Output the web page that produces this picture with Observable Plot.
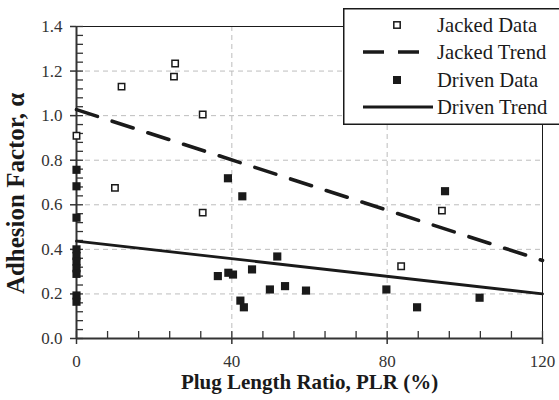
<!DOCTYPE html>
<html><head><meta charset="utf-8">
<script src="https://cdn.jsdelivr.net/npm/d3@7"></script>
<script src="https://cdn.jsdelivr.net/npm/@observablehq/plot@0.6"></script>
<style>
html,body{margin:0;padding:0;background:#fff;}
#wrap{position:relative;width:559px;height:400px;overflow:hidden;font-family:"Liberation Serif","Times New Roman",serif;}
#wrap svg, #wrap svg text{font-family:"Liberation Serif","Times New Roman",serif;}
#legend{position:absolute;left:343px;top:8px;}
</style></head><body><div id="wrap"></div>
<script>
// ---- data ----
const jackedPLR   = [0, 9.9, 11.6, 25.1, 25.4, 32.5, 32.5, 83.6, 94.1];
const jackedAlpha = [0.91, 0.676, 1.13, 1.175, 1.234, 1.005, 0.565, 0.324, 0.574];
const drivenPLR   = [0, 0, 0, 0, 0, 0, 0, 0, 0, 0, 36.4, 39.0, 39.1, 40.3, 42.2, 42.7, 43.1, 45.2, 49.8, 51.7, 53.7, 59.1, 79.8, 87.7, 94.9, 103.8];
const drivenAlpha = [0.757, 0.683, 0.542, 0.40, 0.37, 0.345, 0.315, 0.29, 0.193, 0.165, 0.28, 0.719, 0.295, 0.287, 0.17, 0.638, 0.14, 0.31, 0.22, 0.368, 0.235, 0.215, 0.22, 0.14, 0.661, 0.183];
const trendPLR = [0, 120];
const jackedTrendAlpha = [1.027, 0.35];
const drivenTrendAlpha = [0.437, 0.2];
const xTicks = [0, 40, 80, 120];
const yTicks = [0, 0.2, 0.4, 0.6, 0.8, 1.0, 1.2, 1.4];
const xGrid = [40, 80];
const yGrid = [0.2, 0.4, 0.6, 0.8, 1.0, 1.2];
const xLabel = "Plug Length Ratio, PLR (%)";
const yLabel = "Adhesion Factor, α";
const legendLabels = ["Jacked Data", "Jacked Trend", "Driven Data", "Driven Trend"];

const jacked = jackedPLR.map((x, i) => ({x, y: jackedAlpha[i]}));
const driven = drivenPLR.map((x, i) => ({x, y: drivenAlpha[i]}));
const jTrend = trendPLR.map((x, i) => ({x, y: jackedTrendAlpha[i]}));
const dTrend = trendPLR.map((x, i) => ({x, y: drivenTrendAlpha[i]}));
const xMinor = d3.range(0, 16).map(i => i * 8);
const yMinor = d3.range(0, 36).map(i => +(i * 0.04).toFixed(2));

const ink = "#1a1a1a";
const serif = "Liberation Serif, Times New Roman, serif";
const chart = Plot.plot({
  width: 559, height: 400,
  marginLeft: 76, marginRight: 17, marginTop: 26, marginBottom: 62,
  x: {domain: [0, 120]},
  y: {domain: [0, 1.4]},
  style: {fontFamily: serif, fontSize: "17px", color: ink, background: "white", overflow: "visible"},
  marks: [
    Plot.gridX(xGrid, {stroke: "#bdbdbd", strokeOpacity: 1, strokeDasharray: "5,4"}),
    Plot.gridY(yGrid, {stroke: "#bdbdbd", strokeOpacity: 1, strokeDasharray: "5,4"}),
    Plot.frame({stroke: ink, strokeWidth: 1}),
    Plot.axisX(xMinor, {tickSize: 7, dy: -7, tickFormat: () => "", label: null, strokeWidth: 1.3, stroke: "#333"}),
    Plot.axisY(yMinor, {tickSize: 7, dx: 7, tickFormat: () => "", label: null, strokeWidth: 1.3, stroke: "#333"}),
    Plot.axisX(xTicks, {tickSize: 6, tickPadding: 10, tickFormat: d => String(d), label: null, strokeWidth: 1.5, stroke: "#333", fill: "#333", fontFamily: serif}),
    Plot.axisY(yTicks, {tickSize: 6, tickPadding: 8, tickFormat: d3.format(".1f"), label: null, strokeWidth: 1.5, stroke: "#333", fill: "#333", fontFamily: serif}),
    Plot.ruleX([0], {stroke: "#333", strokeWidth: 2}),
    Plot.ruleY([0], {stroke: "#333", strokeWidth: 2}),
    Plot.line(jTrend, {x: "x", y: "y", stroke: ink, strokeWidth: 3.6, strokeDasharray: "22,15.5"}),
    Plot.line(dTrend, {x: "x", y: "y", stroke: ink, strokeWidth: 2.8}),
    Plot.dot(driven, {x: "x", y: "y", symbol: "square", r: 4.6, fill: ink, stroke: "none"}),
    Plot.dot(jacked, {x: "x", y: "y", symbol: "square", r: 3.6, fill: "white", stroke: ink, strokeWidth: 1.5}),
    Plot.text([xLabel], {frameAnchor: "bottom", dy: 50, fontWeight: "bold", fontSize: 21, fill: ink, fontFamily: serif}),
    Plot.text([yLabel], {frameAnchor: "left", textAnchor: "middle", dx: -61, dy: 11, rotate: -90, fontWeight: "bold", fontSize: 25, fill: ink, fontFamily: serif})
  ]
});
const wrap = document.getElementById("wrap");
wrap.appendChild(chart);

// ---- legend (overlay) ----
const lg = d3.select(wrap).append("svg").attr("id", "legend").attr("width", 230).attr("height", 118);
lg.append("rect").attr("x", 0.75).attr("y", 0.75).attr("width", 240).attr("height", 115.5)
  .attr("fill", "white").attr("stroke", ink).attr("stroke-width", 1.5);
const rowY = [17, 44, 72, 99];
legendLabels.forEach((t, i) => {
  const y = rowY[i];
  if (i === 0) lg.append("rect").attr("x", 54 - 3.2).attr("y", y - 3.2).attr("width", 6.4).attr("height", 6.4)
      .attr("fill", "white").attr("stroke", ink).attr("stroke-width", 1.5);
  if (i === 2) lg.append("rect").attr("x", 54 - 4).attr("y", y - 4).attr("width", 8).attr("height", 8).attr("fill", ink);
  if (i === 1) lg.append("line").attr("x1", 20).attr("x2", 88).attr("y1", y).attr("y2", y)
      .attr("stroke", ink).attr("stroke-width", 3.6).attr("stroke-dasharray", "21,14");
  if (i === 3) lg.append("line").attr("x1", 20).attr("x2", 90).attr("y1", y).attr("y2", y)
      .attr("stroke", ink).attr("stroke-width", 2.8);
  lg.append("text").attr("x", 94).attr("y", y + 6.8).text(t)
    .style("font-family", serif).attr("font-size", 20.6).attr("fill", ink);
});
</script></body></html>
